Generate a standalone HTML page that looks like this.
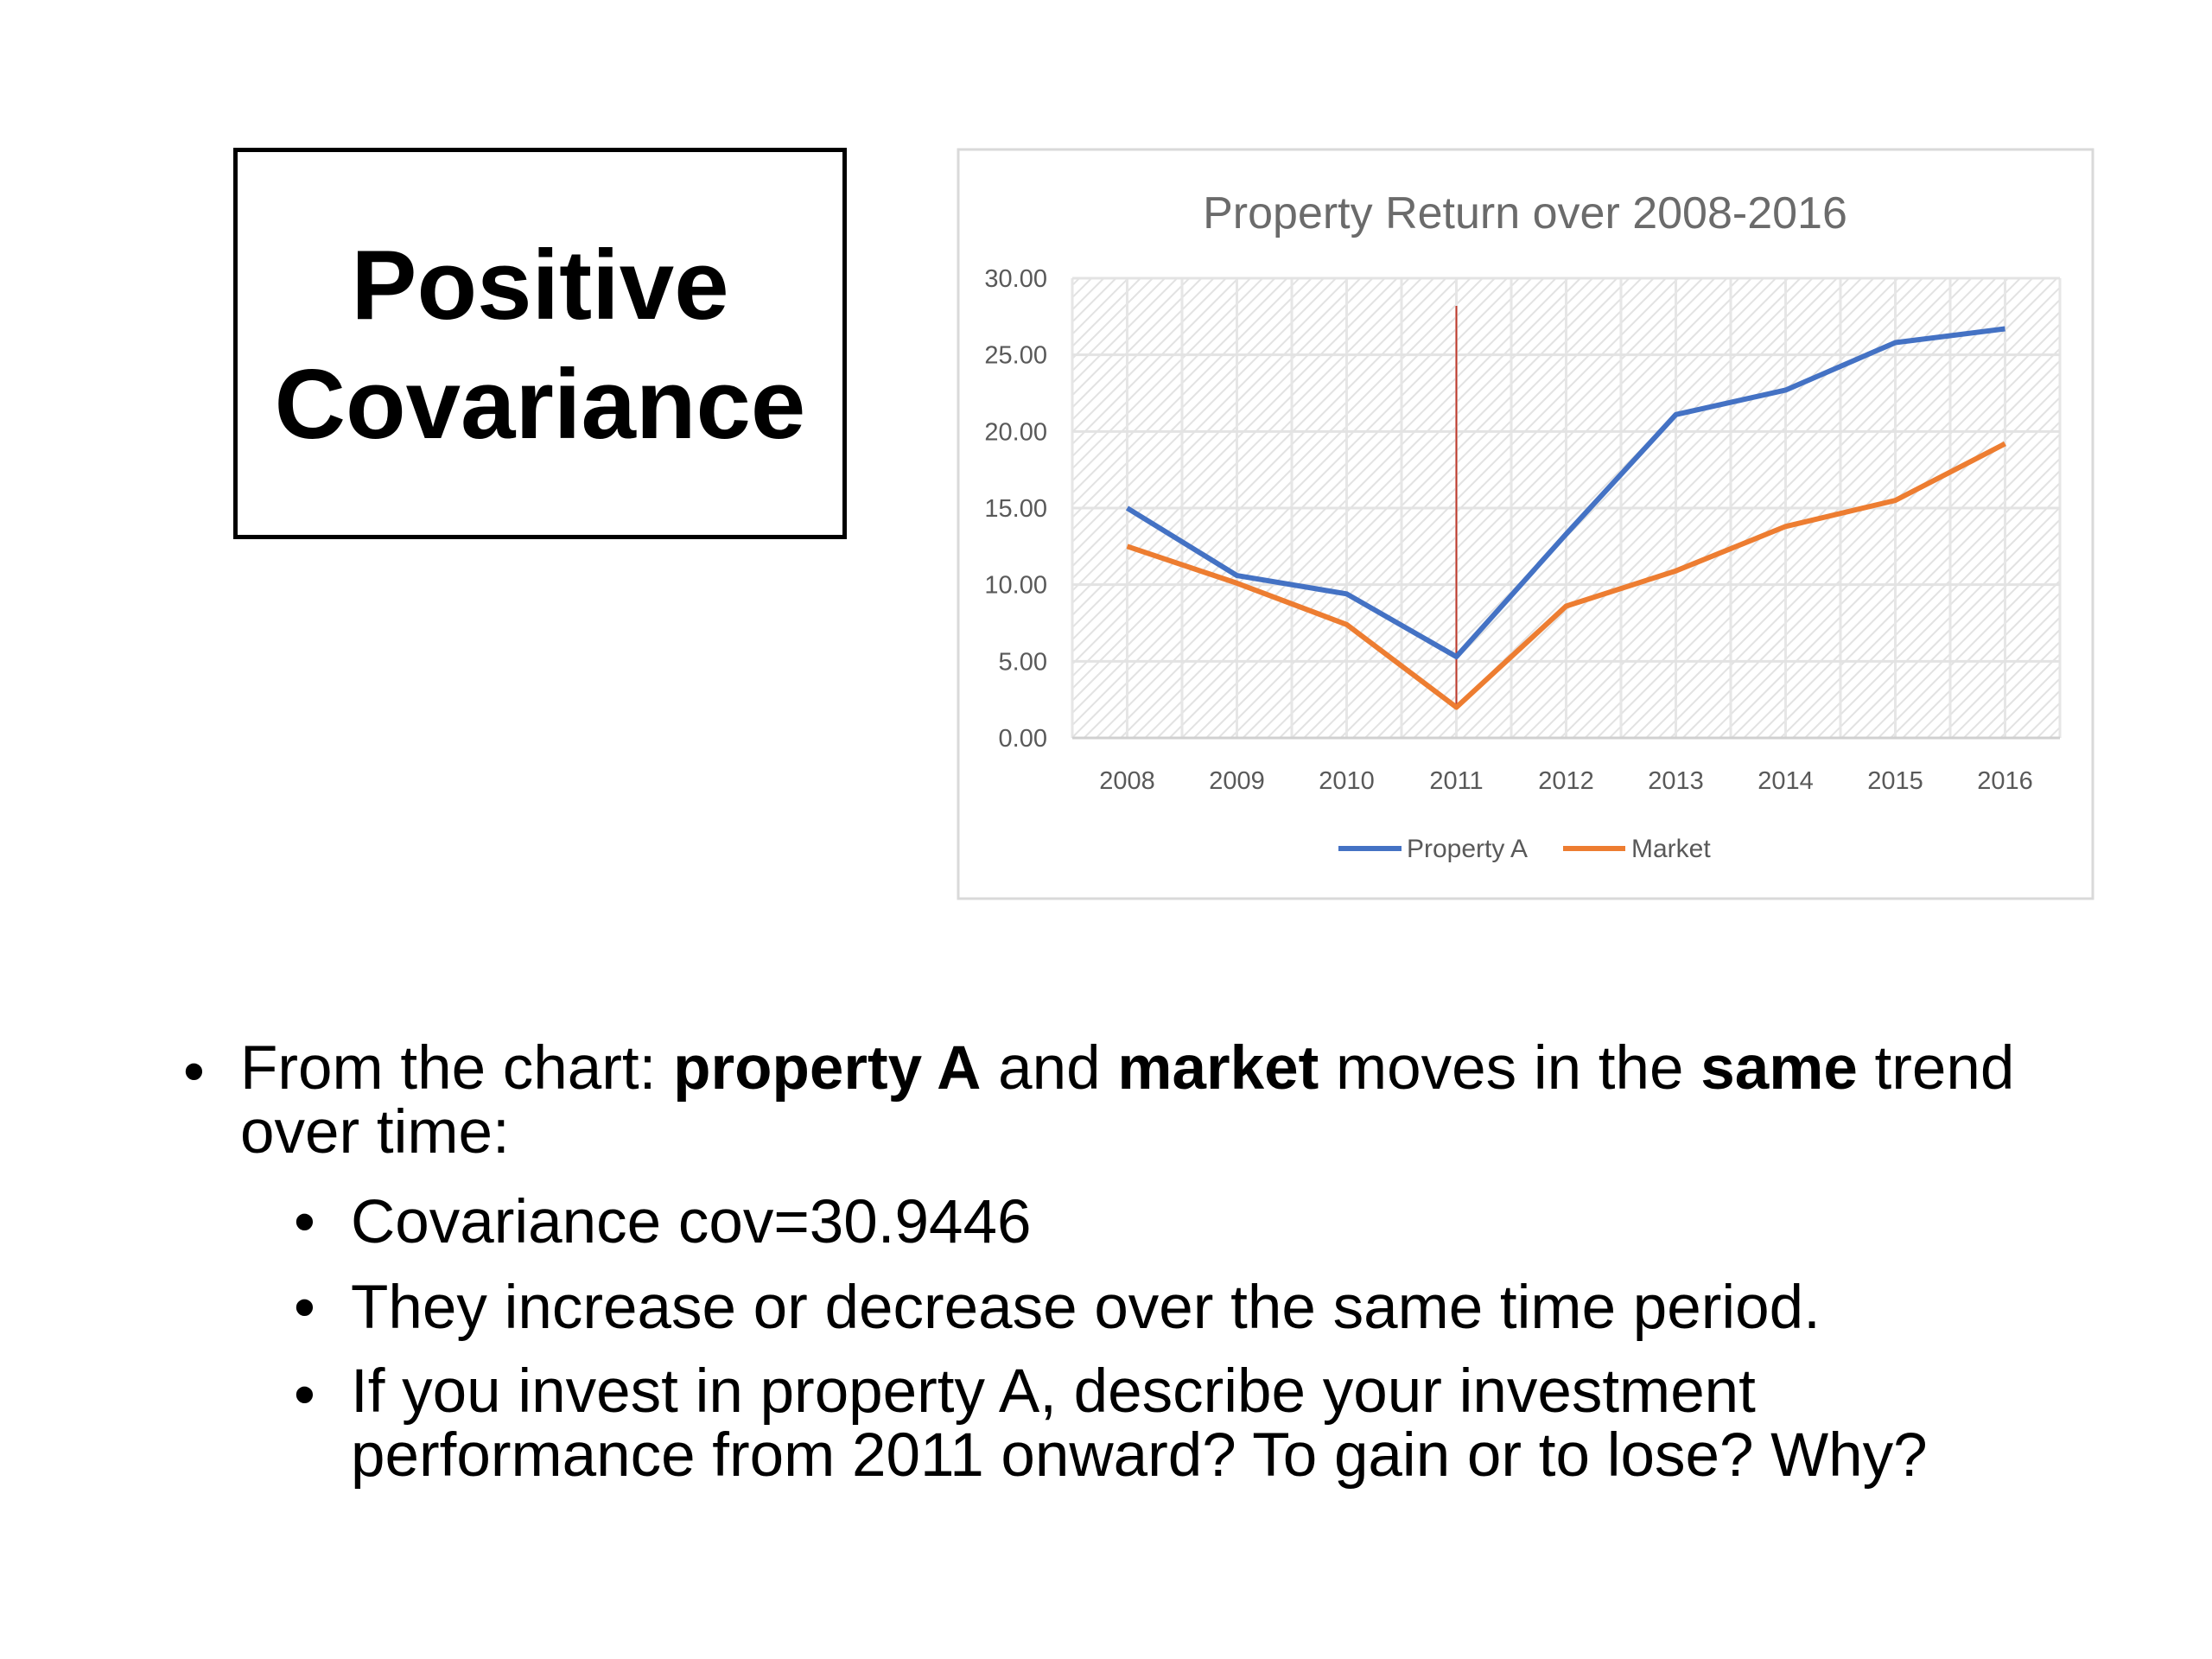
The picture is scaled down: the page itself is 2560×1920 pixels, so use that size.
<!DOCTYPE html>
<html><head><meta charset="utf-8"><style>
html,body{margin:0;padding:0;background:#fff;}
body{width:2560px;height:1920px;position:relative;overflow:hidden;font-family:"Liberation Sans",Arial,sans-serif;}
.t{position:absolute;white-space:nowrap;color:#000;}
</style></head><body>
<div style="position:absolute;left:270px;top:171px;width:700px;height:443px;border:5px solid #000;"></div>
<div class="t" style="left:270px;width:710px;top:262px;text-align:center;font-weight:bold;font-size:114px;line-height:138px;">Positive<br>Covariance</div>

<svg style="position:absolute;left:0;top:0" width="2560" height="1920">
<defs><pattern id="hatch" width="10" height="10" patternUnits="userSpaceOnUse" patternTransform="rotate(45)"><rect width="10" height="10" fill="#fff"/><line x1="0" y1="0" x2="0" y2="10" stroke="#e2e2e2" stroke-width="4"/></pattern></defs>
<rect x="1109" y="173" width="1313" height="867" fill="#fff" stroke="#d9d9d9" stroke-width="3"/>
<text x="1765" y="264" text-anchor="middle" font-size="52" fill="#6b6b6b" font-family="Liberation Sans Narrow, Liberation Sans, sans-serif">Property Return over 2008-2016</text>
<g id="plot"></g>
<g>
<line x1="1549" y1="982" x2="1622" y2="982" stroke="#4472c4" stroke-width="6"/>
<text x="1628" y="992" font-size="30" fill="#595959" font-family="Liberation Sans Narrow, Liberation Sans, sans-serif">Property A</text>
<line x1="1809" y1="982" x2="1881" y2="982" stroke="#ed7d31" stroke-width="6"/>
<text x="1888" y="992" font-size="30" fill="#595959" font-family="Liberation Sans Narrow, Liberation Sans, sans-serif">Market</text>
</g>
</svg>

<div class="t" style="left:212px;top:1200px;font-size:71px;">•</div>
<div class="t" style="left:278px;top:1200px;font-size:71px;line-height:74px;">From the chart: <b>property A</b> and <b>market</b> moves in the <b>same</b> trend<br>over time:</div>
<div class="t" style="left:340px;top:1374px;font-size:71px;">•</div>
<div class="t" style="left:406px;top:1374px;font-size:71px;">Covariance cov=30.9446</div>
<div class="t" style="left:340px;top:1473px;font-size:71px;">•</div>
<div class="t" style="left:406px;top:1473px;font-size:71px;">They increase or decrease over the same time period.</div>
<div class="t" style="left:340px;top:1574px;font-size:71px;">•</div>
<div class="t" style="left:406px;top:1574px;font-size:71px;line-height:74px;">If you invest in property A, describe your investment<br>performance from 2011 onward? To gain or to lose? Why?</div>

<script>
const years = ['2008','2009','2010','2011','2012','2013','2014','2015','2016'];
const propertyA = [15.0,10.6,9.4,5.3,13.3,21.1,22.7,25.8,26.7];
const market = [12.5,10.1,7.4,2.0,8.6,10.9,13.8,15.5,19.2];
const yTicks = [0,5,10,15,20,25,30];
const markerYear = '2011';

const NS='http://www.w3.org/2000/svg';
const L=1241,R=2384,T=322,B=854,YMAX=30;
const bw=(R-L)/years.length;
const xs=i=>L+bw*(i+0.5);
const ys=v=>B-(v/YMAX)*(B-T);
const g=document.getElementById('plot');
function mk(tag,attrs){const e=document.createElementNS(NS,tag);for(const k in attrs)e.setAttribute(k,attrs[k]);g.appendChild(e);return e;}
const bg=mk('rect',{x:L,y:T,width:R-L,height:B-T,fill:'url(#hatch)'});


for(let i=0;i<=years.length*2;i++){const x=L+bw/2*i;const v=mk('line',{x1:x,y1:T,x2:x,y2:B,stroke:'#e6e6e6','stroke-width':3});

}
yTicks.forEach(t=>{const y=ys(t);
const gl=mk('line',{x1:L,y1:y,x2:R,y2:y,stroke:t===0?'#d0d0d0':'#e3e3e3','stroke-width':3});


const tx=mk('text',{x:1212,y:y+10,'text-anchor':'end','font-size':29,fill:'#595959','font-family':'Liberation Sans Narrow, Liberation Sans, sans-serif'});tx.textContent=t.toFixed(2);

});
years.forEach((yr,i)=>{const tx=mk('text',{x:xs(i),y:913,'text-anchor':'middle','font-size':29,fill:'#595959','font-family':'Liberation Sans Narrow, Liberation Sans, sans-serif'});tx.textContent=yr;

});
const mi=years.indexOf(markerYear);
const ml=mk('line',{x1:xs(mi),y1:354,x2:xs(mi),y2:ys(market[mi]),stroke:'#c0392b','stroke-width':2});


function series(vals,color,name){const p=mk('polyline',{points:vals.map((v,i)=>xs(i)+','+ys(v)).join(' '),fill:'none',stroke:color,'stroke-width':6,'stroke-linejoin':'round'});

}
series(propertyA,'#4472c4','property-a-line');
series(market,'#ed7d31','market-line');
</script>
</body></html>
